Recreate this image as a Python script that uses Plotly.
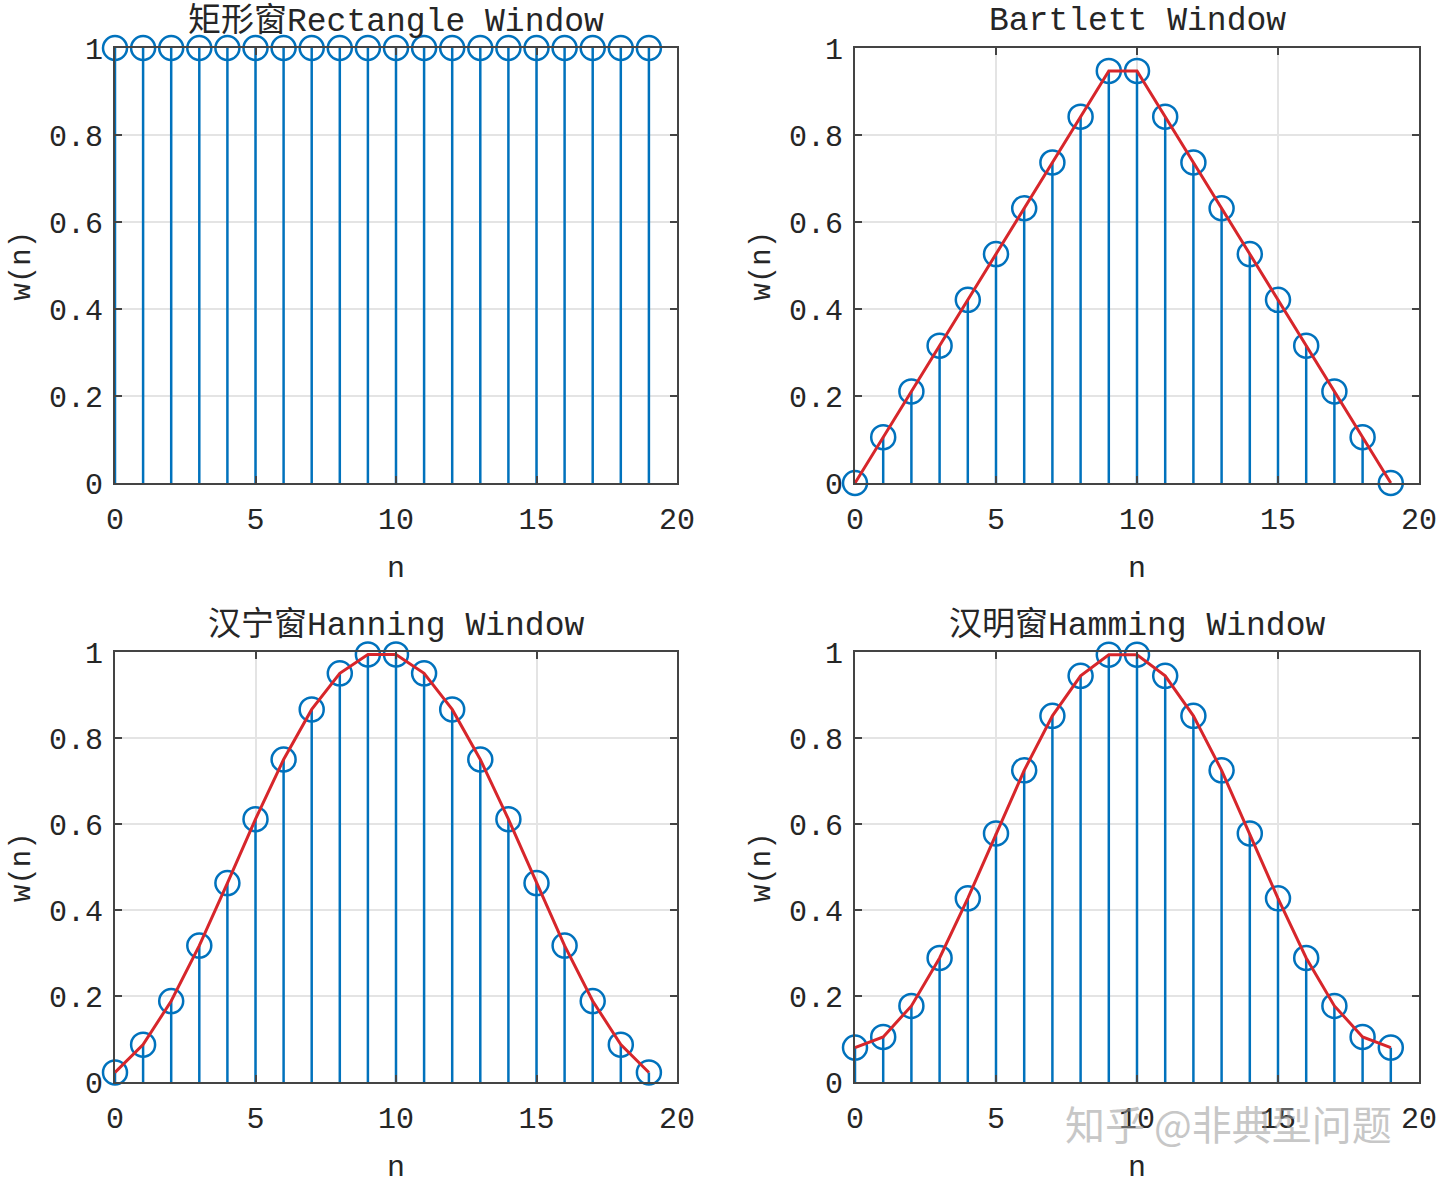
import plotly.graph_objects as go

# ---- data ----
n = list(range(20))
rect_w = [1.0] * 20
bartlett_w = [0.0, 0.1053, 0.2105, 0.3158, 0.4211, 0.5263, 0.6316, 0.7368, 0.8421, 0.9474,
              0.9474, 0.8421, 0.7368, 0.6316, 0.5263, 0.4211, 0.3158, 0.2105, 0.1053, 0.0]
hanning_w = [0.0222, 0.0869, 0.1883, 0.3173, 0.4626, 0.6113, 0.75, 0.8665, 0.9505, 0.9944,
             0.9944, 0.9505, 0.8665, 0.75, 0.6113, 0.4626, 0.3173, 0.1883, 0.0869, 0.0222]
hamming_w = [0.08, 0.1049, 0.177, 0.2884, 0.4271, 0.578, 0.7248, 0.8516, 0.9446, 0.9937,
             0.9937, 0.9446, 0.8516, 0.7248, 0.578, 0.4271, 0.2884, 0.177, 0.1049, 0.08]

titles = ["矩形窗Rectangle Window", "Bartlett Window", "汉宁窗Hanning Window", "汉明窗Hamming Window"]
x_tickvals = [0, 5, 10, 15, 20]
x_ticktext = ["0", "5", "10", "15", "20"]
y_tickvals = [0, 0.2, 0.4, 0.6, 0.8, 1]
y_ticktext = ["0", "0.2", "0.4", "0.6", "0.8", "1"]
x_label = "n"
y_label = "w(n)"
watermark = "知乎 @非典型问题"

panels = [
    (rect_w, False),
    (bartlett_w, True),
    (hanning_w, True),
    (hamming_w, True),
]

# ---- style ----
W, H = 1440, 1184
BLUE = "#0072BD"
RED = "#D7262B"
AXC = "#444444"
GRID = "#e4e4e4"
FONT = "Liberation Mono, Noto Sans CJK SC, monospace"
TXT = "#262626"

col_x = [(115, 677), (855, 1419)]
row_y = [(48, 483), (652, 1082)]

fig = go.Figure()
layout = dict(
    width=W, height=H, margin=dict(l=0, r=0, t=0, b=0, autoexpand=False),
    paper_bgcolor="white", plot_bgcolor="white", showlegend=False,
    font=dict(family=FONT, size=30, color=TXT),
)
annotations = []

for i, (vals, with_line) in enumerate(panels):
    r, c = divmod(i, 2)
    xs = "" if i == 0 else str(i + 1)
    xa, ya = "x" + xs, "y" + xs
    x0, x1 = col_x[c]
    yt, yb = row_y[r]
    layout["xaxis" + xs] = dict(
        domain=[x0 / W, x1 / W], range=[0, 20], anchor=ya, automargin=False,
        tickvals=x_tickvals, ticktext=x_ticktext, ticks="inside", ticklen=7, tickwidth=2,
        tickcolor=AXC, showline=True, linecolor=AXC, linewidth=2, mirror="ticks",
        showgrid=True, gridcolor=GRID, gridwidth=2, zeroline=False,
        tickfont=dict(family=FONT, size=30, color=TXT), ticklabelstandoff=8,
    )
    layout["yaxis" + xs] = dict(
        domain=[1 - yb / H, 1 - yt / H], range=[0, 1], anchor=xa, automargin=False,
        tickvals=y_tickvals, ticktext=y_ticktext, ticks="inside", ticklen=7, tickwidth=2,
        tickcolor=AXC, showline=True, linecolor=AXC, linewidth=2, mirror="ticks",
        showgrid=True, gridcolor=GRID, gridwidth=2, zeroline=False,
        tickfont=dict(family=FONT, size=30, color=TXT), ticklabelstandoff=4,
    )
    # stems
    sx, sy = [], []
    for xv, yv in zip(n, vals):
        sx += [xv, xv, None]
        sy += [0, yv, None]
    fig.add_trace(go.Scatter(x=sx, y=sy, mode="lines", line=dict(color=BLUE, width=2.5),
                             xaxis=xa, yaxis=ya, hoverinfo="skip", cliponaxis=False))
    fig.add_trace(go.Scatter(x=n, y=vals, mode="markers",
                             marker=dict(symbol="circle-open", size=24, color=BLUE,
                                         line=dict(color=BLUE, width=2.5)),
                             xaxis=xa, yaxis=ya, cliponaxis=False))
    if with_line:
        fig.add_trace(go.Scatter(x=n, y=vals, mode="lines", line=dict(color=RED, width=3),
                                 xaxis=xa, yaxis=ya, cliponaxis=False))
    # title
    annotations.append(dict(text=titles[i], xref=xa + " domain", yref=ya + " domain",
                            x=0.5, y=1, xanchor="center", yanchor="middle", yshift=27,
                            showarrow=False, font=dict(family=FONT, size=33, color=TXT)))
    annotations.append(dict(text=x_label, xref=xa + " domain", yref=ya + " domain",
                            x=0.5, y=0, xanchor="center", yanchor="middle", yshift=-86,
                            showarrow=False, font=dict(family=FONT, size=30, color=TXT)))
    annotations.append(dict(text=y_label, xref=xa + " domain", yref=ya + " domain",
                            x=0, y=0.5, xanchor="center", yanchor="middle", xshift=-93,
                            textangle=-90, showarrow=False,
                            font=dict(family=FONT, size=29, color=TXT)))

annotations.append(dict(text=watermark, xref="paper", yref="paper",
                        x=1228 / W, y=1 - 1123 / H, xanchor="center", yanchor="middle",
                        showarrow=False, opacity=0.55,
                        font=dict(family="Noto Sans CJK SC, sans-serif", size=40, color="#9a9a9a")))

layout["annotations"] = annotations
fig.update_layout(**layout)
fig.write_html("out.html")
